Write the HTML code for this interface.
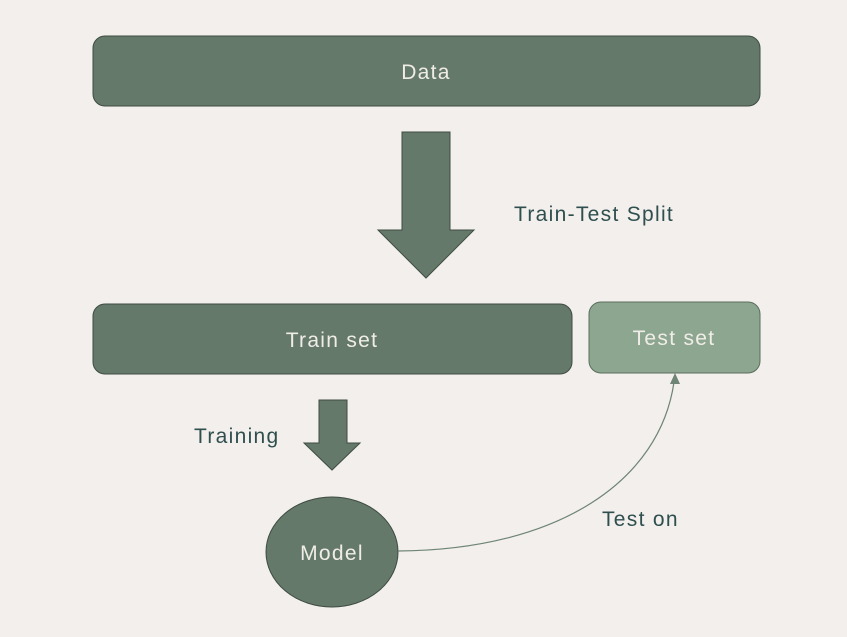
<!DOCTYPE html>
<html><head><style>
html,body{margin:0;padding:0;background:#f2efec;}
svg{display:block;}
text{font-family:"Liberation Sans",sans-serif;letter-spacing:1.3px;}
</style></head><body>
<svg width="847" height="637" viewBox="0 0 847 637" xmlns="http://www.w3.org/2000/svg">
<rect width="847" height="637" fill="#f2efec"/>
<rect x="93" y="36" width="667" height="70" rx="12" fill="#65796a" stroke="#3e4c41" stroke-width="1"/>
<text x="426" y="79" font-size="21" fill="#f0ede8" text-anchor="middle">Data</text>
<polygon points="402,132 450,132 450,230 474,230 426,278 378,230 402,230" fill="#65796a" stroke="#3e4c41" stroke-width="1"/>
<text x="514" y="221" font-size="21" fill="#2f4f4f">Train-Test Split</text>
<rect x="93" y="304" width="479" height="70" rx="12" fill="#65796a" stroke="#3e4c41" stroke-width="1"/>
<text x="332" y="347" font-size="21" fill="#f0ede8" text-anchor="middle">Train set</text>
<rect x="589" y="302" width="171" height="71" rx="12" fill="#8da690" stroke="#5a6e5e" stroke-width="1"/>
<text x="674" y="345" font-size="21" fill="#f0ede8" text-anchor="middle">Test set</text>
<polygon points="319,400 347,400 347,443 360,443 332,470 304,443 319,443" fill="#65796a" stroke="#3e4c41" stroke-width="1"/>
<text x="194" y="443" font-size="21" fill="#2f4f4f">Training</text>
<ellipse cx="332" cy="552" rx="66" ry="55" fill="#65796a" stroke="#3e4c41" stroke-width="1"/>
<text x="332" y="560" font-size="21" fill="#f0ede8" text-anchor="middle">Model</text>
<path d="M398,551 C560,550 660,480 674,382" fill="none" stroke="#6e8474" stroke-width="1.2"/>
<polygon points="675,373 670,384 680,384" fill="#6e8474"/>
<text x="602" y="526" font-size="21" fill="#2f4f4f">Test on</text>
</svg>
</body></html>
